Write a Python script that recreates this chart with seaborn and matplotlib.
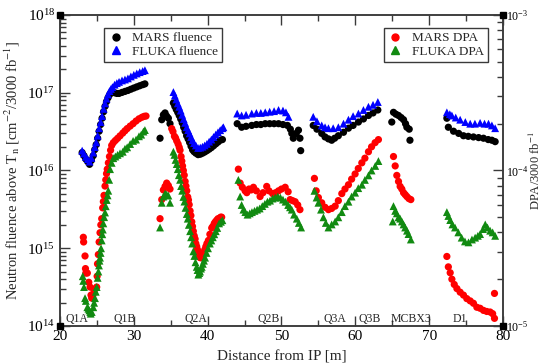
import matplotlib
matplotlib.use("Agg")
import matplotlib.pyplot as plt
import seaborn as sns
from matplotlib.lines import Line2D
from matplotlib.ticker import LogLocator, MultipleLocator, NullFormatter
import matplotlib.transforms as mtransforms

# ---- MARS neutron fluence above Tn [cm^-2 / 3000 fb^-1] ----
mars_flu_x = [23.0, 23.25, 23.5, 23.75, 24.0, 24.25, 24.5, 24.7, 24.9, 25.1, 25.3, 25.5, 25.7, 25.9, 26.1, 26.3,
              26.5, 26.7, 26.9, 27.1, 27.4, 27.7, 28.0, 28.4, 28.8, 29.2, 29.6, 30.0, 30.4, 30.8, 31.2, 31.5,
              33.55, 33.78, 34.0, 34.23, 34.45, 34.68, 34.9,
              35.36, 35.55, 35.75, 35.95, 36.15, 36.35, 36.55, 36.75, 36.95, 37.15, 37.35, 37.55, 37.75, 37.95,
              38.15, 38.4, 38.7, 39.0, 39.3, 39.6, 39.9, 40.2, 40.5, 40.8, 41.1, 41.4, 41.7, 42.0,
              44.0, 44.6, 45.2, 45.97, 46.6, 47.2, 47.8, 48.4, 49.0, 49.6, 50.2, 50.8, 51.2, 51.4, 51.6, 52.0,
              52.3, 52.5, 52.6,
              54.3, 54.8, 55.45, 55.9, 56.36, 56.8, 57.2, 57.7, 58.4, 59.07, 59.7, 60.42, 61.1, 61.78, 62.4, 63.05,
              64.94, 65.17, 65.5, 65.85, 66.2, 66.53, 66.8, 66.98, 67.3, 67.4,
              72.4, 72.6, 73.3, 74.0, 74.65, 75.3, 76.0, 76.7, 77.36, 78.0, 78.5, 78.94]
mars_flu = [1.7e16, 1.55e16, 1.4e16, 1.3e16, 1.2e16, 1.35e16, 1.55e16, 1.85e16, 2.15e16, 2.6e16, 3.2e16, 3.9e16,
            4.7e16, 5.7e16, 6.7e16, 7.7e16, 8.6e16, 9.4e16, 1.0e17, 1.02e17, 1.0e17, 9.8e16, 9.8e16, 1.01e17,
            1.04e17, 1.07e17, 1.11e17, 1.15e17, 1.19e17, 1.23e17, 1.27e17, 1.3e17,
            2.6e16, 4.5e16, 5.2e16, 5.5e16, 5.0e16, 4.7e16, 4.0e16,
            7.4e16, 6.7e16, 6.1e16, 5.6e16, 5.1e16, 4.6e16, 4.1e16, 3.6e16, 3.2e16, 2.8e16, 2.55e16, 2.3e16,
            2.05e16, 1.85e16, 1.75e16, 1.67e16, 1.6e16, 1.62e16, 1.67e16, 1.73e16, 1.8e16, 1.88e16, 1.97e16,
            2.08e16, 2.2e16, 2.32e16, 2.45e16, 2.5e16,
            4.0e16, 3.6e16, 3.7e16, 3.8e16, 3.9e16, 3.9e16, 4.0e16, 4.0e16, 4.0e16, 4.0e16, 3.9e16, 3.8e16,
            3.4e16, 3.0e16, 2.6e16, 3.0e16, 3.3e16, 2.6e16, 1.8e16,
            3.8e16, 3.4e16, 3.0e16, 2.7e16, 2.55e16, 2.45e16, 2.6e16, 2.8e16, 3.1e16, 3.5e16, 3.8e16, 4.2e16,
            4.6e16, 5.1e16, 5.5e16, 6.0e16,
            4.2e16, 5.6e16, 5.3e16, 5.1e16, 4.8e16, 4.5e16, 4.0e16, 3.6e16, 3.4e16, 2.45e16,
            4.7e16, 3.6e16, 3.2e16, 3.0e16, 2.8e16, 2.75e16, 2.7e16, 2.65e16, 2.6e16, 2.5e16, 2.45e16, 2.35e16]

# ---- FLUKA neutron fluence ----
fluka_flu_x = [23.0, 23.25, 23.5, 23.75, 24.0, 24.25, 24.5, 24.7, 24.9, 25.1, 25.3, 25.5, 25.7, 25.9, 26.1, 26.3,
               26.5, 26.7, 26.9, 27.1, 27.4, 27.7, 28.0, 28.4, 28.8, 29.2, 29.6, 30.0, 30.4, 30.8, 31.2, 31.5,
               35.36, 35.55, 35.75, 35.95, 36.15, 36.35, 36.55, 36.75, 36.95, 37.15, 37.35, 37.55, 37.75, 37.95,
               38.15, 38.4, 38.7, 39.0, 39.3, 39.6, 39.9, 40.2, 40.5, 40.8, 41.1, 41.4, 41.7, 42.0, 42.13,
               44.0, 44.6, 45.2, 45.97, 46.6, 47.2, 47.8, 48.4, 49.0, 49.6, 50.2, 50.6, 50.95,
               54.3, 54.8, 55.45, 55.9, 56.36, 57.0, 57.7, 58.4, 59.07, 59.7, 60.42, 61.1, 61.78, 62.4, 63.05,
               72.4, 72.8, 73.08, 73.6, 74.2, 74.9, 75.56, 76.2, 76.9, 77.5, 78.04, 78.5, 78.94]
fluka_flu = [1.8e16, 1.65e16, 1.5e16, 1.4e16, 1.3e16, 1.45e16, 1.7e16, 2.0e16, 2.3e16, 2.8e16, 3.5e16, 4.2e16,
             5.0e16, 6.2e16, 7.3e16, 8.4e16, 9.5e16, 1.05e17, 1.12e17, 1.18e17, 1.27e17, 1.33e17, 1.38e17,
             1.44e17, 1.48e17, 1.53e17, 1.62e17, 1.7e17, 1.77e17, 1.84e17, 1.9e17, 1.95e17,
             1.02e17, 9.2e16, 8.2e16, 7.3e16, 6.6e16, 5.9e16, 5.2e16, 4.6e16, 4.1e16, 3.6e16, 3.3e16, 3.0e16,
             2.7e16, 2.45e16, 2.25e16, 2.1e16, 1.95e16, 1.97e16, 2.02e16, 2.1e16, 2.2e16, 2.35e16, 2.5e16, 2.7e16,
             2.9e16, 3.1e16, 3.3e16, 3.5e16, 3.6e16,
             5.4e16, 5.1e16, 5.2e16, 5.4e16, 5.5e16, 5.5e16, 5.6e16, 5.7e16, 5.8e16, 6.0e16, 5.9e16, 5.6e16, 4.9e16,
             4.9e16, 4.3e16, 3.8e16, 3.6e16, 3.5e16, 3.5e16, 3.6e16, 4.0e16, 4.5e16, 5.0e16, 5.4e16, 6.0e16,
             6.6e16, 7.0e16, 7.6e16,
             5.6e16, 5.3e16, 5.1e16, 4.8e16, 4.5e16, 4.2e16, 4.0e16, 4.0e16, 4.1e16, 4.0e16, 4.0e16, 3.8e16, 3.5e16]

# ---- MARS DPA [/3000 fb^-1] ----
mars_dpa_x = [23.16, 23.2, 23.39, 23.45, 23.5, 23.7, 23.9, 24.07, 24.2, 24.3, 24.45, 24.6, 24.8, 24.97, 25.03,
              25.08, 25.19, 25.3, 25.42, 25.53, 25.65, 25.78, 25.87, 25.96, 26.1, 26.2, 26.3, 26.4, 26.55, 26.7,
              26.85, 27.0, 27.22, 27.5, 27.8, 28.13, 28.5, 28.8, 29.1, 29.5, 29.9, 30.3, 30.7, 31.1, 31.4, 31.65,
              33.55, 33.78, 34.0, 34.23, 34.45, 34.68, 34.9,
              35.13, 35.3, 35.5, 35.65, 35.81, 36.0, 36.15, 36.26, 36.4, 36.5, 36.6, 36.71, 36.83, 36.95, 37.06,
              37.17, 37.3, 37.4, 37.5, 37.62, 37.73, 37.85, 37.95, 38.06, 38.18, 38.3, 38.4, 38.52, 38.63, 38.75,
              38.86, 38.97, 39.1, 39.2, 39.3, 39.42, 39.6, 39.75, 39.9, 40.1, 40.3, 40.55, 40.7, 40.9, 41.05,
              41.23, 41.4, 41.6, 41.75, 41.9,
              44.16, 44.4, 44.7, 45.07, 45.3, 45.6, 45.9, 46.2, 46.6, 47.1, 47.5, 48.0, 48.3, 48.8, 49.2, 49.6,
              50.0, 50.5, 50.9, 51.17, 51.5, 51.85, 52.2, 52.5,
              54.46, 54.7, 55.0, 55.45, 55.9, 56.36, 56.8, 57.27, 57.7, 58.17, 58.6, 59.07, 59.5, 59.97, 60.4,
              60.88, 61.3, 61.78, 62.2, 62.68, 63.13,
              65.17, 65.4, 65.62, 65.85, 66.07, 66.3, 66.53, 66.75, 66.98, 67.25, 67.52,
              72.4, 72.6, 72.85, 73.08, 73.4, 73.76, 74.2, 74.65, 75.1, 75.56, 76.0, 76.46, 76.9, 77.36, 77.8,
              78.26, 78.6, 78.85, 78.85]
mars_dpa = [3.72e-5, 3.47e-5, 2.82e-5, 2.34e-5, 2.19e-5, 2.19e-5, 1.91e-5, 1.78e-5, 1.58e-5, 1.51e-5, 1.58e-5,
            1.70e-5, 1.74e-5, 1.78e-5, 2.09e-5, 2.51e-5, 2.88e-5, 3.47e-5, 3.98e-5, 4.47e-5, 4.90e-5, 5.75e-5,
            6.31e-5, 6.92e-5, 7.94e-5, 8.71e-5, 9.55e-5, 1.02e-4, 1.12e-4, 1.23e-4, 1.35e-4, 1.45e-4, 1.51e-4,
            1.56e-4, 1.61e-4, 1.67e-4, 1.74e-4, 1.8e-4, 1.86e-4, 1.93e-4, 2.0e-4, 2.08e-4, 2.15e-4, 2.2e-4,
            2.23e-4, 2.24e-4,
            4.9e-5, 6.5e-5, 7.5e-5, 7.9e-5, 8.3e-5, 8.0e-5, 7.6e-5,
            1.86e-4, 1.78e-4, 1.66e-4, 1.62e-4, 1.55e-4, 1.48e-4, 1.41e-4, 1.35e-4, 1.23e-4, 1.15e-4, 1.07e-4,
            1.0e-4, 9.33e-5, 8.51e-5, 7.94e-5, 7.41e-5, 6.76e-5, 6.46e-5, 6.03e-5, 5.50e-5, 5.13e-5, 4.68e-5,
            4.37e-5, 4.07e-5, 3.80e-5, 3.63e-5, 3.39e-5, 3.24e-5, 3.09e-5, 2.95e-5, 2.82e-5, 2.75e-5, 2.75e-5,
            2.82e-5, 2.88e-5, 2.95e-5, 3.09e-5, 3.24e-5, 3.39e-5, 3.55e-5, 3.89e-5, 4.27e-5, 4.37e-5, 4.57e-5,
            4.68e-5, 4.79e-5, 4.90e-5, 4.90e-5, 5.01e-5, 5.01e-5,
            1.02e-4, 8.3e-5, 7.8e-5, 7.4e-5, 7.2e-5, 7.6e-5, 7.5e-5, 7.8e-5, 7.4e-5, 6.8e-5, 7.2e-5, 7.9e-5,
            7.4e-5, 7.1e-5, 7.2e-5, 7.4e-5, 7.6e-5, 7.8e-5, 7.3e-5, 6.5e-5, 6.4e-5, 6.3e-5, 6.0e-5, 5.6e-5,
            8.9e-5, 7.4e-5, 6.7e-5, 6.2e-5, 5.8e-5, 5.6e-5, 5.7e-5, 5.9e-5, 6.4e-5, 7.1e-5, 7.6e-5, 8.1e-5,
            8.8e-5, 9.5e-5, 1.03e-4, 1.12e-4, 1.2e-4, 1.32e-4, 1.42e-4, 1.51e-4, 1.58e-4,
            1.23e-4, 1.07e-4, 9.3e-5, 8.5e-5, 7.9e-5, 7.6e-5, 7.2e-5, 7.0e-5, 6.8e-5, 6.6e-5, 6.5e-5,
            2.8e-5, 2.4e-5, 2.2e-5, 2.0e-5, 1.85e-5, 1.74e-5, 1.65e-5, 1.58e-5, 1.5e-5, 1.45e-5, 1.4e-5,
            1.32e-5, 1.3e-5, 1.26e-5, 1.24e-5, 1.23e-5, 1.2e-5, 1.12e-5, 1.62e-5]

# ---- FLUKA DPA ----
fluka_dpa_x = [23.08, 23.15, 23.25, 23.39, 23.5, 23.7, 23.85, 23.97, 24.1, 24.16, 24.3, 24.51, 24.62, 24.74, 24.85,
               24.97, 25.1, 25.2, 25.28, 25.35, 25.42, 25.5, 25.56, 25.65, 25.73, 25.8, 25.87, 25.98, 26.1, 26.2,
               26.33, 26.45, 26.54, 26.66, 26.78, 27.0, 27.22, 27.5, 27.8, 28.13, 28.5, 28.8, 29.1, 29.5, 29.9,
               30.3, 30.7, 31.0, 31.3, 31.5,
               33.55, 33.78, 34.0, 34.23, 34.45, 34.68, 34.9,
               35.36, 35.5, 35.65, 35.81, 35.95, 36.1, 36.26, 36.4, 36.55, 36.71, 36.85, 37.0, 37.17, 37.3, 37.45,
               37.62, 37.75, 37.9, 38.06, 38.2, 38.35, 38.52, 38.63, 38.74, 38.86, 38.97, 39.1, 39.2, 39.35, 39.5,
               39.65, 39.85, 40.05, 40.3, 40.5, 40.7, 40.9, 41.1, 41.3, 41.55, 41.8, 42.0,
               44.16, 44.4, 44.6, 44.84, 45.1, 45.4, 45.7, 46.0, 46.35, 46.7, 47.05, 47.4, 47.75, 48.1, 48.45,
               48.8, 49.15, 49.5, 49.85, 50.2, 50.55, 50.9, 51.15, 51.39, 51.7, 52.07, 52.35, 52.66,
               54.46, 54.75, 55.0, 55.35, 55.68, 56.0, 56.36, 56.8, 57.27, 57.7, 58.17, 58.6, 59.07, 59.5, 59.97,
               60.4, 60.9, 61.3, 61.78, 62.2, 62.7, 63.13,
               65.07, 65.17, 65.4, 65.62, 65.85, 66.07, 66.3, 66.53, 66.75, 67.0, 67.2, 67.52,
               72.4, 72.6, 72.85, 73.15, 73.5, 73.95, 74.4, 74.85, 75.33, 75.8, 76.23, 76.6, 76.9, 77.3, 77.6,
               77.9, 78.26, 78.6, 78.94]
fluka_dpa = [2.09e-5, 1.95e-5, 1.78e-5, 1.51e-5, 1.45e-5, 1.32e-5, 1.29e-5, 1.26e-5, 1.23e-5, 1.2e-5, 1.23e-5,
             1.32e-5, 1.41e-5, 1.51e-5, 1.66e-5, 1.78e-5, 2.04e-5, 2.24e-5, 2.45e-5, 2.63e-5, 2.75e-5, 2.95e-5,
             3.16e-5, 3.55e-5, 3.89e-5, 4.17e-5, 4.57e-5, 5.01e-5, 5.37e-5, 5.89e-5, 6.46e-5, 6.92e-5, 7.41e-5,
             8.71e-5, 1.02e-4, 1.12e-4, 1.2e-4, 1.23e-4, 1.26e-4, 1.29e-4, 1.32e-4, 1.38e-4, 1.41e-4, 1.48e-4,
             1.55e-4, 1.58e-4, 1.66e-4, 1.7e-4, 1.78e-4, 1.82e-4,
             4.3e-5, 6.2e-5, 6.8e-5, 7.1e-5, 7.0e-5, 6.9e-5, 6.2e-5,
             1.32e-4, 1.26e-4, 1.17e-4, 1.10e-4, 1.02e-4, 9.33e-5, 8.71e-5, 7.94e-5, 7.41e-5, 6.76e-5, 6.31e-5,
             5.75e-5, 5.25e-5, 4.90e-5, 4.47e-5, 4.07e-5, 3.72e-5, 3.39e-5, 3.02e-5, 2.82e-5, 2.57e-5, 2.40e-5,
             2.29e-5, 2.14e-5, 2.19e-5, 2.24e-5, 2.34e-5, 2.40e-5, 2.51e-5, 2.63e-5, 2.75e-5, 2.95e-5, 3.16e-5,
             3.39e-5, 3.55e-5, 3.72e-5, 3.89e-5, 4.07e-5, 4.27e-5, 4.57e-5, 4.68e-5, 4.79e-5,
             8.7e-5, 6.8e-5, 6.0e-5, 5.6e-5, 5.4e-5, 5.2e-5, 5.3e-5, 5.4e-5, 5.5e-5, 5.6e-5, 5.7e-5, 5.9e-5,
             6.1e-5, 6.3e-5, 6.4e-5, 6.6e-5, 6.7e-5, 6.8e-5, 6.7e-5, 6.5e-5, 6.3e-5, 6.0e-5, 5.8e-5, 5.6e-5,
             5.2e-5, 4.9e-5, 4.6e-5, 4.3e-5,
             7.4e-5, 6.7e-5, 6.2e-5, 5.6e-5, 5.0e-5, 4.6e-5, 4.3e-5, 4.5e-5, 4.7e-5, 5.0e-5, 5.4e-5, 5.9e-5,
             6.3e-5, 6.8e-5, 7.2e-5, 7.7e-5, 8.1e-5, 8.7e-5, 9.3e-5, 1.0e-4, 1.07e-4, 1.15e-4,
             4.7e-5, 5.9e-5, 5.5e-5, 5.3e-5, 5.0e-5, 4.9e-5, 4.7e-5, 4.5e-5, 4.3e-5, 4.1e-5, 3.9e-5, 3.6e-5,
             5.4e-5, 5.1e-5, 4.8e-5, 4.5e-5, 4.3e-5, 4.0e-5, 3.7e-5, 3.5e-5, 3.45e-5, 3.6e-5, 3.7e-5, 3.8e-5,
             3.9e-5, 4.2e-5, 4.5e-5, 4.3e-5, 4.1e-5, 4.0e-5, 3.8e-5]

# ---- magnet names along the beam line ----
magnet_names = ["Q1A", "Q1B", "Q2A", "Q2B", "Q3A", "Q3B", "MCBX3", "D1"]
magnet_pos = [22.3, 28.7, 38.4, 48.2, 57.3, 62.0, 67.5, 74.1]

GREEN = "#118a11"
FRAME = "#3a3a3a"

sns.set_style("ticks")
plt.rcParams["font.family"] = ["Liberation Serif", "DejaVu Serif"]
plt.rcParams["mathtext.fontset"] = "stix"
plt.rcParams["xtick.direction"] = "in"
plt.rcParams["ytick.direction"] = "in"

fig = plt.figure(figsize=(5.42, 3.64), dpi=100)
ax = fig.add_axes([0.1107, 0.1044, 0.8173, 0.8544])
ax2 = ax.twinx()

# MARS first, FLUKA drawn over it
sns.scatterplot(x=mars_flu_x, y=mars_flu, ax=ax, color="black", marker="o", s=27,
                edgecolor="none", zorder=2)
sns.scatterplot(x=fluka_flu_x, y=fluka_flu, ax=ax, color="#0000ff", marker="^", s=32,
                edgecolor="none", zorder=3)
sns.scatterplot(x=mars_dpa_x, y=mars_dpa, ax=ax2, color="#ff0000", marker="o", s=27,
                edgecolor="none", zorder=2)
sns.scatterplot(x=fluka_dpa_x, y=fluka_dpa, ax=ax2, color=GREEN, marker="^", s=32,
                edgecolor="none", zorder=3)

ax.set_xlim(20, 80)
ax.set_yscale("log")
ax.set_ylim(1e14, 1e18)
ax2.set_yscale("log")
ax2.set_ylim(1e-5, 1e-3)

ax.xaxis.set_major_locator(MultipleLocator(10))
ax.xaxis.set_minor_locator(MultipleLocator(5))
for a in (ax, ax2):
    a.yaxis.set_major_locator(LogLocator(base=10, numticks=10))
    a.yaxis.set_minor_locator(LogLocator(base=10, subs=range(2, 10), numticks=20))
    a.yaxis.set_minor_formatter(NullFormatter())

ax.tick_params(axis="x", which="both", top=True, bottom=True, colors=FRAME,
               labelcolor="black", labelsize=11, pad=3)
ax.tick_params(axis="x", which="major", length=7, width=1)
ax.tick_params(axis="x", which="minor", length=4, width=1)
ax.tick_params(axis="y", which="both", left=True, right=False, colors=FRAME,
               labelcolor="black", labelsize=11)
ax.tick_params(axis="y", which="major", length=7, width=1)
ax.tick_params(axis="y", which="minor", length=4, width=1)
ax2.tick_params(axis="y", which="both", right=True, left=False, colors=FRAME,
                labelcolor="black", labelsize=8.5, pad=2)
ax2.tick_params(axis="y", which="major", length=7, width=1)
ax2.tick_params(axis="y", which="minor", length=4, width=1)
for tick in ax2.yaxis.get_major_ticks():
    tick.label2.set_verticalalignment("center_baseline")

for a in (ax, ax2):
    for sp in a.spines.values():
        sp.set_visible(True)
        sp.set_color(FRAME)
        sp.set_linewidth(1.1)

ax.set_xlabel("Distance from IP [m]", fontsize=11, labelpad=5)
ax.set_ylabel(r"Neutron fluence above T$_{\rm n}$ [cm$^{-2}$/3000 fb$^{-1}$]", fontsize=10.5,
              labelpad=4)
fig.text(0.988, 0.53, r"DPA/3000 fb$^{-1}$", rotation=90, ha="center", va="center",
         fontsize=9)

# magnet labels just above the bottom frame
trans = mtransforms.blended_transform_factory(ax.transData, ax.transAxes)
for name, pos in zip(magnet_names, magnet_pos):
    ax.text(pos, 0.022, name, transform=trans, ha="center", va="center", fontsize=8.5)

# frame corner markers
ax2.plot([0, 0, 1, 1], [0, 1, 0, 1], "s", color="black", ms=4,
         transform=ax2.transAxes, clip_on=False, zorder=10)

leg_kw = dict(frameon=True, fancybox=False, framealpha=1, edgecolor=FRAME, fontsize=9.5,
              handlelength=1.1, handletextpad=0.7, labelspacing=0.08, borderpad=0.3,
              borderaxespad=0)
h1 = [Line2D([], [], ls="none", marker="o", color="black", ms=5),
      Line2D([], [], ls="none", marker="^", color="#0000ff", ms=6)]
leg1 = ax.legend(h1, ["MARS fluence", "FLUKA fluence"], loc="upper left",
                 bbox_to_anchor=(0.1, 0.958), **leg_kw)
leg1.get_frame().set_linewidth(1.0)
h2 = [Line2D([], [], ls="none", marker="o", color="#ff0000", ms=5),
      Line2D([], [], ls="none", marker="^", color=GREEN, ms=6)]
leg2 = ax2.legend(h2, ["MARS DPA", "FLUKA DPA"], loc="upper left",
                  bbox_to_anchor=(0.731, 0.958), **leg_kw)
leg2.get_frame().set_linewidth(1.0)

fig.savefig("out.png", dpi=100)
